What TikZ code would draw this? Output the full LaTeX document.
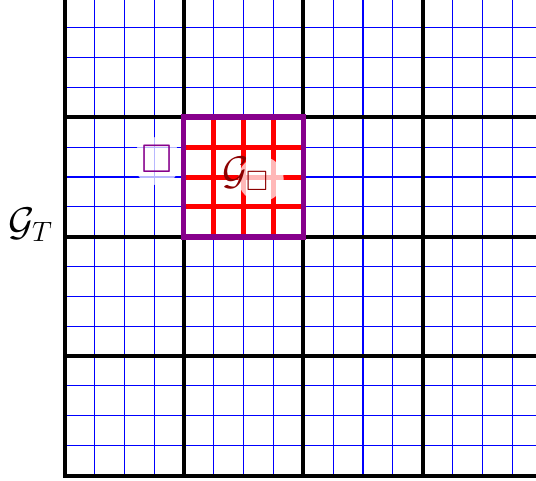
\documentclass[tikz,border=0pt]{standalone}
\IfFileExists{fix-cm.sty}{\usepackage{fix-cm}}{}
\usepackage{amssymb}
\definecolor{dred}{rgb}{0.55,0,0}
\definecolor{pur}{rgb}{0.53,0,0.55}
\tikzset{
  fine/.style={blue, line width=0.8pt},
  coarse/.style={black, line width=3pt},
  redgrid/.style={red, line width=3.75pt},
  border/.style={pur, line width=3.9pt},
  glow/.style={circle, fill=white, fill opacity=0.72, draw=none, inner sep=0pt},
  lab/.style={inner sep=0pt, font=\fontsize{30}{36}\selectfont}
}
\begin{document}
\begin{tikzpicture}[x=0.75pt, y=-0.75pt]
\useasboundingbox (0,0) rectangle (536,480);
\fill[white] (0,0) rectangle (536,480);
\begin{scope}
\clip (0,0) rectangle (536,480);
% fine blue grid
\foreach \k in {0,...,16} {
  \draw[fine] ({64.5+29.85*\k},-5) -- ({64.5+29.85*\k},475.5);
  \draw[fine] (64.5,{475.5-29.85*\k}) -- (545,{475.5-29.85*\k});
}
% coarse black grid
\foreach \k in {0,...,4} {
  \draw[coarse] ({64.5+119.4*\k},-5) -- ({64.5+119.4*\k},477);
  \draw[coarse] (63,{475.5-119.4*\k}) -- (545,{475.5-119.4*\k});
}
% red grid in highlighted cell
\foreach \k in {1,2,3} {
  \draw[redgrid] ({183.9+29.85*\k},117.3) -- ({183.9+29.85*\k},236.7);
  \draw[redgrid] (183.9,{117.3+29.85*\k}) -- (303.3,{117.3+29.85*\k});
}
\node[draw=none, inner sep=0pt, minimum width=119.4*0.75pt, minimum height=119.4*0.75pt] (cell) at (243.6,177) {};
\draw[border] (cell.north west) rectangle (cell.south east);
\end{scope}
% glows
\node[glow, minimum size=36pt] (glowL) at (157,161) {};
\node[glow, minimum size=34pt] (glowC) at (261,179) {};
% labels
\node[lab, text=pur] (sq) at (157,158.7) {$\square$};
\node[lab, text=dred, anchor=base west] (gbox) at (222,184) {$\mathcal{G}_\square$};
\node[lab, anchor=base west] (gT) at (8,235) {$\mathcal{G}_T$};
\end{tikzpicture}
\end{document}
